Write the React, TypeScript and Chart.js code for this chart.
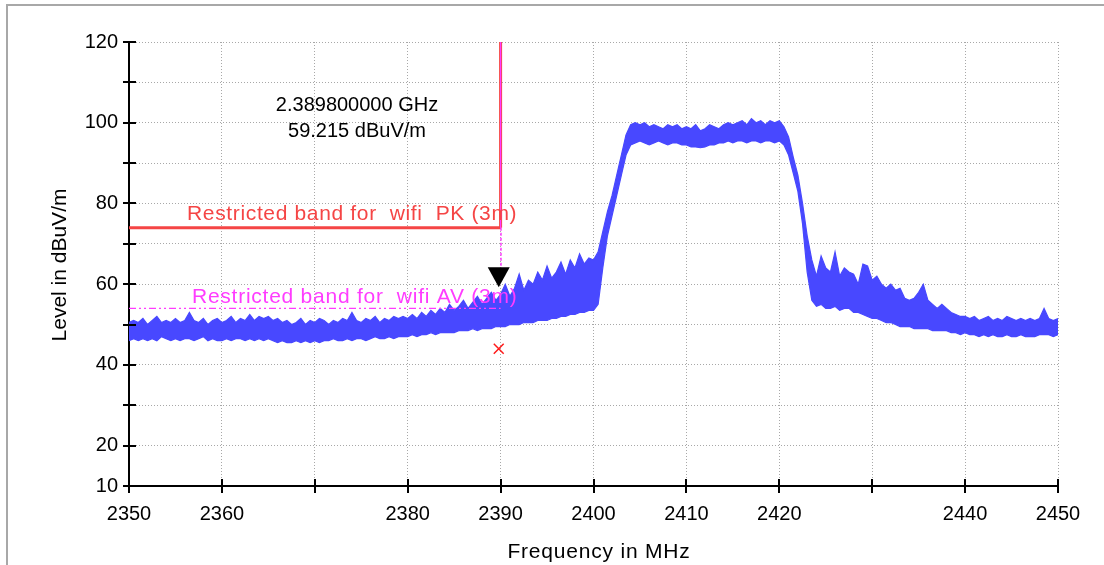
import React, { useEffect, useRef } from "react";
import { Chart, registerables } from "chart.js";
Chart.register(...registerables);

// Sweep grid of the trace (MHz)
const FREQ_START = 2350;
const FREQ_STEP = 0.5;

// Upper / lower envelope of the measured trace (dBuV/m), one value per 0.5 MHz
const traceUpper = [
  50.5, 51, 50.5, 51.5, 50, 51, 52, 50.5, 51, 50.5,
  51.5, 50.5, 51, 53, 51, 50.5, 51.5, 50, 51, 51.5,
  50.5, 51, 52, 50.5, 51.5, 51, 52.5, 51, 52, 51.5,
  52, 51, 51.5, 50.5, 51, 50, 50.5, 51.5, 50, 51,
  50.5, 51.5, 51, 50, 51, 50.5, 51.5, 51, 53, 51,
  50.5, 51.5, 51, 52, 50.5, 51.5, 51, 52, 51.5, 52,
  51.5, 52.5, 51.5, 53, 52, 53.5, 52.5, 54, 53, 55,
  53.5, 54.5, 56, 54, 55.5, 57, 55, 56.5, 58, 56,
  57.5, 60, 57, 59, 62.5, 58.5, 61, 60, 63, 61,
  64.5, 61.5, 63, 65.5, 62.5, 66, 64, 67.5, 65, 66.5,
  66, 68, 73, 78, 82, 87, 92, 97, 99.5, 100,
  99.5, 100, 99, 99.5, 99, 98.5, 99.5, 99, 99.5, 98.5,
  99, 98.5, 99.5, 98, 98.5, 99.5, 99, 98.5, 99.5, 100,
  99.5, 100, 100.5, 99.5, 101, 100, 100.5, 99.5, 100.5, 100,
  100.5, 99, 96.5, 91.5, 87, 80, 72, 66, 62, 67,
  64, 63, 68, 62, 64, 63, 62.5, 60, 65, 64.5,
  61, 62, 60, 59, 60, 58.5, 59, 56.5, 56, 56.5,
  58, 60, 56, 55, 54, 55, 54, 53, 52.5, 52,
  52, 51.5, 52, 51, 51.5, 52, 51, 51.5, 51, 52,
  51.5, 51, 51.5, 51, 51.5, 51, 51.5, 54, 51.5, 51,
  51.5,
];
const traceLower = [
  46, 46.5, 46, 46.5, 46, 46.5, 46, 47, 46.5, 46,
  46.5, 46, 46.5, 46.5, 46, 46.5, 47, 46, 46.5, 46,
  46, 46.5, 46, 46.5, 46.5, 46, 46.5, 46, 46.5, 46,
  46.5, 46, 45.5, 46, 45.5, 45.5, 46, 45.5, 46, 45.5,
  46, 45.5, 46, 46, 46.5, 46, 46, 46.5, 46, 46.5,
  46.5, 46, 46.5, 47, 46.5, 46.5, 47, 46.5, 47, 47,
  47, 47.5, 47, 47.5, 47.5, 48, 47.5, 48, 48, 48,
  48, 48.5, 48.5, 48.5, 49, 48.5, 49, 49, 49, 49.5,
  49.5, 49.5, 50, 50, 50, 50.5, 50.5, 50.5, 51, 51,
  51, 51.5, 51.5, 52, 52, 52.5, 52.5, 53, 53, 53.5,
  53.5, 55, 64, 72, 77, 82, 87, 92, 94.5, 95,
  95.5, 95, 94.5, 95, 95.5, 95, 94.5, 95, 95, 94.5,
  94.5, 94, 94, 93.8, 94, 94.5, 94.5, 95, 95, 95.5,
  95, 95.5, 95.5, 95, 95.5, 95.5, 95, 95.5, 95.5, 95,
  95.5, 94.5, 92, 87.5, 83, 75, 63, 56, 54.5, 55,
  54, 54, 54.5, 53.5, 54, 54, 53, 53, 52.5, 52,
  51.5, 51.5, 51, 50.5, 50.5, 50, 49.5, 49.5, 49.5, 49,
  49, 49, 49, 48.5, 48.5, 48.5, 48.5, 48, 48, 47.5,
  48, 47.5, 47.5, 47, 47.5, 47, 47.5, 47, 47, 47.5,
  47, 47, 47.5, 47, 47, 47, 47.5, 47.5, 47.5, 47,
  47.5,
];

const X_MIN = 2350;
const X_MAX = 2450;
const Y_MIN = 10;
const Y_MAX = 120;
const TICK_STEP = 10;
const xTickLabels = [2350, 2360, 2380, 2390, 2400, 2410, 2420, 2440, 2450];
const yTickLabels = [10, 20, 40, 60, 80, 100, 120];

const limitStart = 2350;
const limitEnd = 2390;
const pkLimit = 74;
const avLimit = 54;
const pkLabel = "Restricted band for  wifi  PK (3m)";
const avLabel = "Restricted band for  wifi AV (3m)";

const markerFreq = 2389.8;
const markerLevel = 59.215;
const avReadingLevel = 44.0;
const markerText = ["2.389800000 GHz", "59.215 dBuV/m"];

const xTitle = "Frequency in MHz";
const yTitle = "Level in dBuV/m";

const BLUE = "#4848ff";
const RED = "#f54545";
const MAGENTA = "#ff3cff";
const FONT = "'Liberation Sans', Arial, sans-serif";

const upperPts = traceUpper.map((v, i) => ({ x: FREQ_START + i * FREQ_STEP, y: v }));
const lowerPts = traceLower.map((v, i) => ({ x: FREQ_START + i * FREQ_STEP, y: v }));

const decorPlugin = {
  id: "decor",
  afterDatasetsDraw(chart: any) {
    const { ctx, scales } = chart;
    const x = scales.x;
    const y = scales.y;
    ctx.save();
    // tick marks crossing the axes
    ctx.strokeStyle = "#000";
    ctx.lineWidth = 2;
    for (let v = Y_MIN; v <= Y_MAX; v += TICK_STEP) {
      const py = Math.round(y.getPixelForValue(v));
      ctx.beginPath();
      ctx.moveTo(x.left - 6, py);
      ctx.lineTo(x.left + 7, py);
      ctx.stroke();
    }
    for (let f = X_MIN; f <= X_MAX; f += TICK_STEP) {
      const px = Math.round(x.getPixelForValue(f));
      ctx.beginPath();
      ctx.moveTo(px, y.bottom - 7);
      ctx.lineTo(px, y.bottom + 7);
      ctx.stroke();
    }

    // marker: thin dashed drop line + triangle
    const mx = x.getPixelForValue(markerFreq);
    const my = y.getPixelForValue(markerLevel);
    const lx = x.getPixelForValue(limitEnd);
    ctx.strokeStyle = MAGENTA;
    ctx.lineWidth = 1.5;
    ctx.setLineDash([3, 2]);
    ctx.beginPath();
    ctx.moveTo(Math.round(lx), y.getPixelForValue(pkLimit));
    ctx.lineTo(Math.round(lx), my - 18);
    ctx.stroke();
    ctx.setLineDash([]);
    ctx.fillStyle = "#000";
    ctx.beginPath();
    ctx.moveTo(mx, my);
    ctx.lineTo(mx - 11, my - 20);
    ctx.lineTo(mx + 11, my - 20);
    ctx.closePath();
    ctx.fill();

    // texts
    ctx.textBaseline = "middle";
    ctx.font = `20px ${FONT}`;
    ctx.fillStyle = "#000";
    ctx.textAlign = "center";
    ctx.fillText(markerText[0], 357, 105);
    ctx.fillText(markerText[1], 357, 131);

    ctx.textAlign = "left";
    ctx.font = `21px ${FONT}`;
    (ctx as any).letterSpacing = "0.65px";
    ctx.fillStyle = RED;
    ctx.fillText(pkLabel, 187, 214);
    (ctx as any).letterSpacing = "0.75px";
    ctx.fillStyle = MAGENTA;
    ctx.fillText(avLabel, 192, 297);

    // axis titles
    ctx.fillStyle = "#000";
    ctx.font = `21px ${FONT}`;
    ctx.textAlign = "center";
    (ctx as any).letterSpacing = "0.8px";
    ctx.fillText(xTitle, 599, 552);
    (ctx as any).letterSpacing = "0px";
    ctx.save();
    ctx.translate(60, 265);
    ctx.rotate(-Math.PI / 2);
    ctx.fillText(yTitle, 0, 0);
    ctx.restore();
    ctx.restore();
  },
};

export default function App() {
  const ref = useRef<HTMLCanvasElement | null>(null);
  useEffect(() => {
    if (!ref.current) return;
    const chart = new Chart(ref.current, {
      type: "line",
      data: {
        datasets: [
          {
            label: "PK vertical overlay",
            data: [{ x: limitEnd, y: Y_MAX }, { x: limitEnd, y: pkLimit }],
            borderColor: MAGENTA,
            borderWidth: 1,
            pointRadius: 0,
            order: 0,
          },
          {
            label: "PK vertical",
            data: [{ x: limitEnd, y: Y_MAX }, { x: limitEnd, y: pkLimit }],
            borderColor: RED,
            borderWidth: 3,
            pointRadius: 0,
            order: 1,
          },
          {
            label: "PK limit",
            data: [{ x: limitStart, y: pkLimit }, { x: limitEnd, y: pkLimit }],
            borderColor: RED,
            borderWidth: 3,
            pointRadius: 0,
            order: 1,
          },
          {
            label: "AV limit",
            data: [{ x: limitStart, y: avLimit }, { x: limitEnd, y: avLimit }],
            borderColor: MAGENTA,
            borderWidth: 1.2,
            borderDash: [7, 3, 2, 3, 2, 3],
            pointRadius: 0,
            order: 1,
          },
          {
            label: "AV reading",
            data: [{ x: markerFreq, y: avReadingLevel }],
            showLine: false,
            pointStyle: "crossRot",
            pointRadius: 7,
            borderColor: "#ff1a1a",
            borderWidth: 1.5,
            order: 1,
          },
          {
            label: "upper",
            data: upperPts,
            borderColor: BLUE,
            backgroundColor: BLUE,
            borderWidth: 1.2,
            pointRadius: 0,
            fill: "+1",
            order: 5,
          },
          {
            label: "lower",
            data: lowerPts,
            borderColor: BLUE,
            borderWidth: 1.2,
            pointRadius: 0,
            fill: false,
            order: 6,
          },
        ],
      },
      options: {
        animation: false,
        responsive: false,
        devicePixelRatio: 1,
        layout: { padding: { top: 42, right: 46, left: 0, bottom: 0 } },
        plugins: { legend: { display: false }, tooltip: { enabled: false } },
        elements: { line: { tension: 0 } },
        scales: {
          x: {
            type: "linear",
            min: X_MIN,
            max: X_MAX,
            afterFit: (s: any) => { s.height = 79; },
            ticks: {
              stepSize: TICK_STEP,
              autoSkip: false,
              maxRotation: 0,
              padding: 16,
              color: "#000",
              font: { family: FONT, size: 20 },
              callback: (v: any) => (xTickLabels.includes(Number(v)) ? String(v) : ""),
            },
            grid: { color: "#a8a8a8", lineWidth: 1, drawTicks: false },
            border: { display: true, color: "#000", width: 2, dash: [1, 2] },
          },
          y: {
            type: "linear",
            min: Y_MIN,
            max: Y_MAX,
            afterFit: (s: any) => { s.width = 129; },
            ticks: {
              stepSize: TICK_STEP,
              autoSkip: false,
              padding: 11,
              color: "#000",
              font: { family: FONT, size: 20 },
              callback: (v: any) => (yTickLabels.includes(Number(v)) ? String(v) : ""),
            },
            grid: { color: "#a8a8a8", lineWidth: 1, drawTicks: false },
            border: { display: true, color: "#000", width: 2, dash: [1, 2] },
          },
        },
      },
      plugins: [decorPlugin],
    });
    return () => chart.destroy();
  }, []);

  return (
    <div style={{ position: "fixed", left: 0, top: 0, width: 1104, height: 565, background: "#fff", overflow: "hidden" }}>
      <div
        style={{
          position: "absolute",
          left: 6,
          top: 4,
          width: 1200,
          height: 700,
          borderLeft: "2px solid #a8a8a8",
          borderTop: "2px solid #a8a8a8",
        }}
      />
      <canvas ref={ref} width={1104} height={565} style={{ position: "absolute", left: 0, top: 0 }} />
    </div>
  );
}
